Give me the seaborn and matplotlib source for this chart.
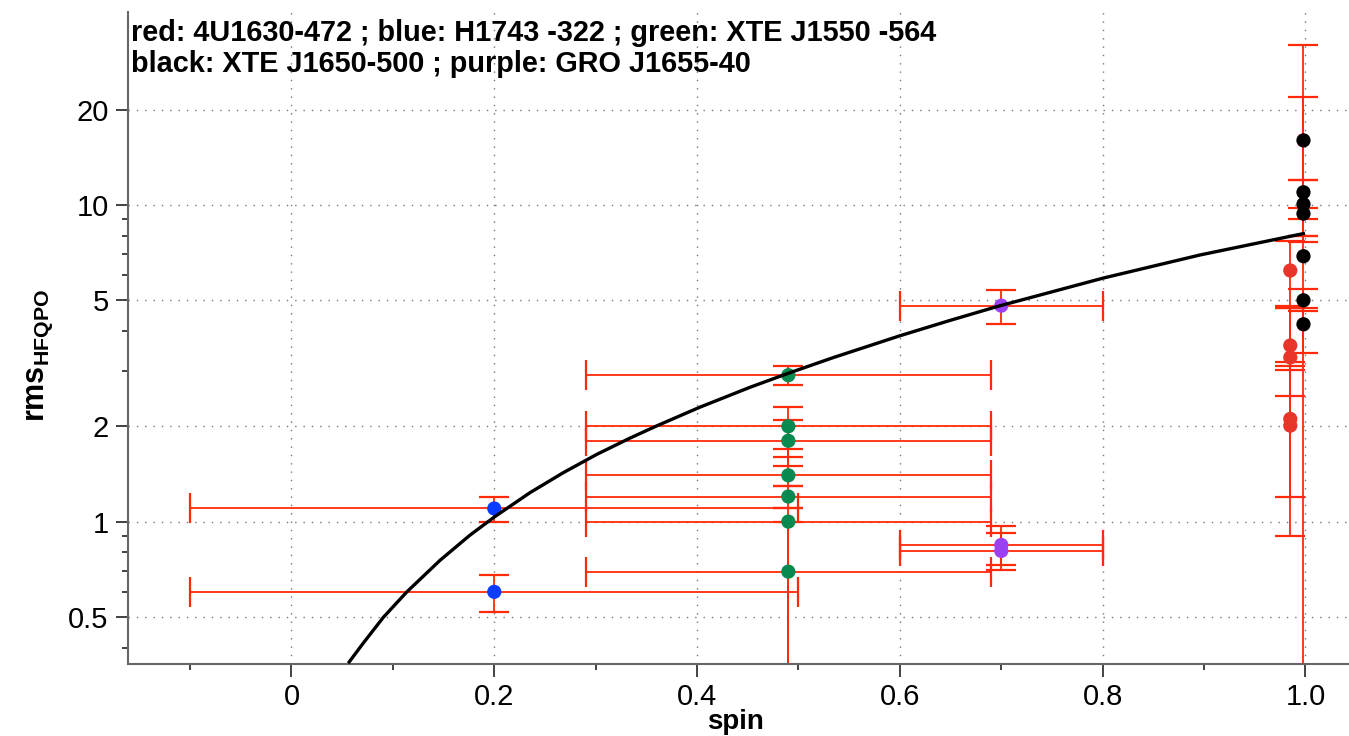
import numpy as np
import pandas as pd
import matplotlib
matplotlib.use("Agg")
import matplotlib.pyplot as plt
import seaborn as sns
from matplotlib.ticker import FixedLocator, FixedFormatter, NullFormatter

# ---------------- data ----------------
red_spin = [0.985, 0.985, 0.985, 0.985, 0.985]
red_rms = [6.21, 3.60, 3.30, 2.11, 2.01]
red_lo = [4.80, 3.09, 2.50, 1.20, 0.90]
red_hi = [7.70, 4.73, 4.73, 3.20, 3.01]
red_spin_err = [0.0, 0.0, 0.0, 0.0, 0.0]

blue_spin = [0.20, 0.20]
blue_rms = [1.10, 0.60]
blue_lo = [1.00, 0.52]
blue_hi = [1.20, 0.68]
blue_spin_err = [0.30, 0.30]

green_spin = [0.49, 0.49, 0.49, 0.49, 0.49, 0.49, 0.49]
green_rms = [2.90, 2.00, 1.80, 1.40, 1.20, 1.00, 0.695]
green_lo = [2.70, 1.60, 1.50, 1.30, 1.10, 0.30, 0.30]
green_hi = [3.10, 2.30, 2.10, 1.70, 1.30, 1.10, 1.00]
green_spin_err = [0.20, 0.20, 0.20, 0.20, 0.20, 0.20, 0.20]

black_spin = [0.998, 0.998, 0.998, 0.998, 0.998, 0.998, 0.998]
black_rms = [16.0, 10.97, 10.06, 9.39, 6.89, 5.00, 4.20]
black_lo = [12.0, 7.63, 8.00, 9.02, 0.30, 4.61, 3.41]
black_hi = [22.0, 32.0, 12.0, 9.77, 8.00, 5.41, 4.73]
black_spin_err = [0.0, 0.0, 0.0, 0.0, 0.0, 0.0, 0.0]

purple_spin = [0.70, 0.70, 0.70]
purple_rms = [4.81, 0.844, 0.808]
purple_lo = [4.21, 0.730, 0.704]
purple_hi = [5.39, 0.969, 0.921]
purple_spin_err = [0.10, 0.10, 0.10]

curve_spin = [0.056, 0.070, 0.0905, 0.1136, 0.1464, 0.176, 0.2004, 0.2352, 0.268,
              0.301, 0.3338, 0.3602, 0.4029, 0.4522, 0.4906, 0.534, 0.6001, 0.6494,
              0.6968, 0.8006, 0.896, 0.9995]
curve_rms = [0.357, 0.410, 0.498, 0.599, 0.754, 0.906, 1.036, 1.234, 1.427,
             1.630, 1.835, 2.006, 2.299, 2.656, 2.946, 3.294, 3.864, 4.319,
             4.787, 5.878, 6.953, 8.142]

x_major = [0.0, 0.2, 0.4, 0.6, 0.8, 1.0]
x_major_labels = ["0", "0.2", "0.4", "0.6", "0.8", "1.0"]
x_minor = [-0.1, 0.1, 0.3, 0.5, 0.7, 0.9]
y_major = [0.5, 1, 2, 5, 10, 20]
y_major_labels = ["0.5", "1", "2", "5", "10", "20"]
y_minor = [0.4, 0.6, 0.7, 0.8, 0.9, 3, 4, 6, 7, 8, 9]

title_line1 = "red: 4U1630-472 ; blue: H1743 -322 ; green: XTE J1550 -564"
title_line2 = "black: XTE J1650-500 ; purple: GRO J1655-40"

sources = ["4U1630-472", "H1743-322", "XTE J1550-564", "XTE J1650-500", "GRO J1655-40"]
colors = {"4U1630-472": "#e8352a", "H1743-322": "#0a3cff", "XTE J1550-564": "#07894f",
          "XTE J1650-500": "#000000", "GRO J1655-40": "#9b40f5"}

groups = [
    (sources[0], red_spin, red_rms, red_lo, red_hi, red_spin_err),
    (sources[1], blue_spin, blue_rms, blue_lo, blue_hi, blue_spin_err),
    (sources[2], green_spin, green_rms, green_lo, green_hi, green_spin_err),
    (sources[3], black_spin, black_rms, black_lo, black_hi, black_spin_err),
    (sources[4], purple_spin, purple_rms, purple_lo, purple_hi, purple_spin_err),
]
frames = []
for name, s, r, lo, hi, se in groups:
    frames.append(pd.DataFrame({"source": name, "spin": s, "rms": r,
                                "lo": lo, "hi": hi, "serr": se}))
df = pd.concat(frames, ignore_index=True)

# ---------------- style ----------------
sns.set_style("ticks")
plt.rcParams["font.family"] = ["Liberation Sans", "DejaVu Sans"]
plt.rcParams["mathtext.fontset"] = "custom"
plt.rcParams["mathtext.rm"] = "Liberation Sans"
plt.rcParams["mathtext.bf"] = "Liberation Sans:bold"
plt.rcParams["text.color"] = "black"
plt.rcParams["axes.labelcolor"] = "black"
plt.rcParams["xtick.color"] = "black"
plt.rcParams["ytick.color"] = "black"

fig = plt.figure(figsize=(13.49, 7.36), dpi=100)
ax = fig.add_axes([128 / 1349, 72 / 736, (1349 - 128) / 1349, (664 - 12) / 736])
ax.set_yscale("log")

err_color = "#ff2a0a"
for name, sub in df.groupby("source", sort=False):
    xerr = sub["serr"].values if sub["serr"].max() > 0 else None
    yerr = np.vstack([sub["rms"].values - sub["lo"].values,
                      sub["hi"].values - sub["rms"].values])
    ax.errorbar(sub["spin"], sub["rms"], xerr=xerr, yerr=yerr, fmt="none",
                ecolor=err_color, elinewidth=1.3, capsize=10.5, capthick=1.6,
                zorder=2)

sns.scatterplot(data=df, x="spin", y="rms", hue="source", palette=colors,
                hue_order=sources, s=105, edgecolor="none", linewidth=0,
                legend=False, ax=ax, zorder=3)

sns.lineplot(x=curve_spin, y=curve_rms, sort=False, estimator=None,
             color="black", linewidth=2.4, ax=ax, zorder=4,
             solid_joinstyle="round", solid_capstyle="butt")

ax.set_xlim(-0.1612, 1.0429)
ax.set_ylim(0.355, 40.7)

ax.xaxis.set_major_locator(FixedLocator(x_major))
ax.xaxis.set_major_formatter(FixedFormatter(x_major_labels))
ax.xaxis.set_minor_locator(FixedLocator(x_minor))
ax.xaxis.set_minor_formatter(NullFormatter())
ax.yaxis.set_major_locator(FixedLocator(y_major))
ax.yaxis.set_major_formatter(FixedFormatter(y_major_labels))
ax.yaxis.set_minor_locator(FixedLocator(y_minor))
ax.yaxis.set_minor_formatter(NullFormatter())

ax.tick_params(which="major", direction="out", length=9, width=1.2,
               color="#222222", labelcolor="black", labelsize=21, pad=5)
ax.tick_params(which="minor", direction="out", length=4.5, width=1.2,
               color="#222222")

ax.grid(True, which="major", linestyle=(0, (1, 5)), color="#777777", linewidth=1.0)
ax.set_axisbelow(True)

for side in ["left", "bottom"]:
    ax.spines[side].set_color("#666666")
    ax.spines[side].set_linewidth(1.5)
ax.spines["top"].set_visible(False)
ax.spines["right"].set_visible(False)

ax.set_xlabel("spin", fontsize=20, fontweight="bold", color="black")
ax.set_ylabel(r"$\mathbf{rms}_{\mathbf{HFQPO}}$", fontsize=22, color="black")
ax.xaxis.set_label_coords((736 - 128) / 1221, (664 - 722) / 652)
ax.xaxis.label.set_va("center")
ax.yaxis.set_label_coords((40 - 128) / 1221, (664 - 355) / 652)
ax.yaxis.label.set_va("center")

fig.text(131 / 1349, 1 - 41 / 736, title_line1, fontsize=20.8, fontweight="bold",
         va="baseline", ha="left", color="black")
fig.text(131 / 1349, 1 - 72 / 736, title_line2, fontsize=20.8, fontweight="bold",
         va="baseline", ha="left", color="black")

fig.savefig("out.png", dpi=100)
